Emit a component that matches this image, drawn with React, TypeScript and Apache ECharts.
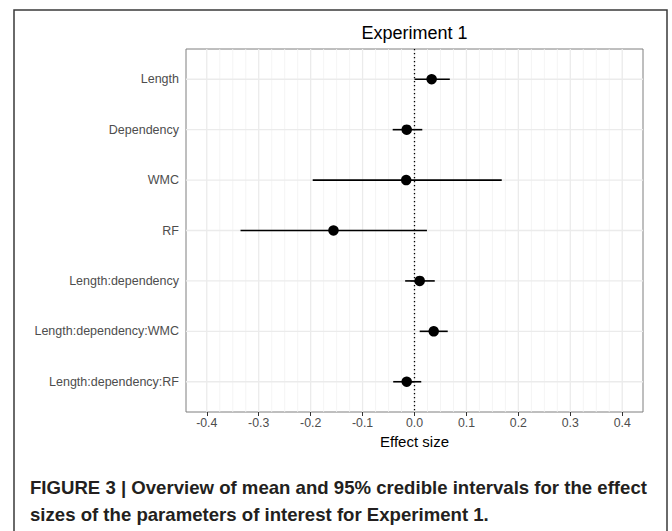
import React, { useEffect, useRef } from "react";
import * as echarts from "echarts";

const categories = [
  "Length",
  "Dependency",
  "WMC",
  "RF",
  "Length:dependency",
  "Length:dependency:WMC",
  "Length:dependency:RF",
];
const yPositions = [1, 2, 3, 4, 5, 6, 7];
const means = [0.033, -0.015, -0.016, -0.156, 0.01, 0.037, -0.015];
const lower = [0.0, -0.042, -0.196, -0.335, -0.018, 0.01, -0.041];
const upper = [0.068, 0.015, 0.168, 0.024, 0.039, 0.064, 0.013];

const xTicks = [-0.4, -0.3, -0.2, -0.1, 0, 0.1, 0.2, 0.3, 0.4];
const xTickLabels = ["-0.4", "-0.3", "-0.2", "-0.1", "0.0", "0.1", "0.2", "0.3", "0.4"];
const xMinorTicks = [
  -0.375, -0.35, -0.325, -0.275, -0.25, -0.225, -0.175, -0.15, -0.125, -0.075, -0.05, -0.025,
  0.025, 0.05, 0.075, 0.125, 0.15, 0.175, 0.225, 0.25, 0.275, 0.325, 0.35, 0.375,
];
const zeroLine = [0];

const titleText = "Experiment 1";
const xAxisName = "Effect size";
const captionLines = [
  "FIGURE 3 | Overview of mean and 95% credible intervals for the effect",
  "sizes of the parameters of interest for Experiment 1.",
];

const FONT = "'Liberation Sans', Arial, Helvetica, sans-serif";

export default function App() {
  const ref = useRef<HTMLDivElement>(null);

  useEffect(() => {
    if (!ref.current) return;
    const chart = echarts.init(ref.current, undefined, { renderer: "svg" });

    const vLine = (stroke: string, lineWidth: number, lineDash?: number[]) =>
      (params: any, api: any) => {
        const cs = params.coordSys;
        const x = api.coord([api.value(0), api.value(1)])[0];
        return {
          type: "line",
          shape: { x1: x, y1: cs.y, x2: x, y2: cs.y + cs.height },
          style: { stroke, lineWidth, lineDash },
          silent: true,
        };
      };

    const option: any = {
      animation: false,
      backgroundColor: "#ffffff",
      textStyle: { fontFamily: FONT },
      grid: { left: 186, top: 49, width: 457, height: 363, show: true, borderColor: "#7f7f7f", borderWidth: 1, backgroundColor: "transparent" },
      xAxis: {
        type: "value",
        min: -0.44,
        max: 0.44,
        axisLine: { show: false },
        splitLine: { show: false },
        axisTick: { show: true, customValues: xTicks, length: 4, lineStyle: { color: "#333333", width: 1 } },
        axisLabel: {
          customValues: xTicks,
          color: "#4d4d4d",
          fontSize: 12.3,
          fontFamily: FONT,
          margin: 5,
          formatter: (v: number) => {
            const i = xTicks.findIndex((t) => Math.abs(t - v) < 1e-9);
            return i >= 0 ? xTickLabels[i] : "";
          },
        },
        name: xAxisName,
        nameLocation: "middle",
        nameGap: 21,
        nameTextStyle: { color: "#000000", fontSize: 15, fontFamily: FONT },
      },
      yAxis: {
        type: "value",
        min: 0.4,
        max: 7.6,
        inverse: true,
        axisLine: { show: false },
        splitLine: { show: false },
        axisTick: { show: true, customValues: yPositions, length: 4, lineStyle: { color: "#333333", width: 1 } },
        axisLabel: {
          customValues: yPositions,
          color: "#4d4d4d",
          fontSize: 12.5,
          fontFamily: FONT,
          margin: 7,
          formatter: (v: number) => categories[Math.round(v) - 1] ?? "",
        },
      },
      graphic: [
        {
          type: "rect",
          shape: { x: 14, y: 10, width: 653, height: 560 },
          style: { fill: "none", stroke: "#3a3a3a", lineWidth: 1.5 },
          silent: true,
        },
        {
          type: "text",
          x: 414.5,
          y: 33,
          style: { text: titleText, fill: "#000000", fontSize: 18, fontFamily: FONT, align: "center", verticalAlign: "middle" },
        },
        ...captionLines.map((t, i) => ({
          type: "text",
          x: 30,
          y: 487 + i * 27.5,
          style: { text: t, fill: "#231f20", fontSize: 18.6, fontWeight: "bold", fontFamily: FONT, align: "left", verticalAlign: "middle" },
        })),
      ],
      series: [
        {
          type: "custom",
          name: "minorGrid",
          silent: true,
          z: 1,
          data: xMinorTicks.map((v) => [v, 1]),
          encode: { x: 0, y: 1 },
          renderItem: vLine("#f1f1f1", 0.8),
        },
        {
          type: "custom",
          name: "majorGridX",
          silent: true,
          z: 1,
          data: xTicks.map((v) => [v, 1]),
          encode: { x: 0, y: 1 },
          renderItem: vLine("#ebebeb", 1.3),
        },
        {
          type: "custom",
          name: "majorGridY",
          silent: true,
          z: 1,
          data: yPositions.map((y) => [0, y]),
          encode: { x: 0, y: 1 },
          renderItem: (params: any, api: any) => {
            const cs = params.coordSys;
            const y = api.coord([api.value(0), api.value(1)])[1];
            return {
              type: "line",
              shape: { x1: cs.x, y1: y, x2: cs.x + cs.width, y2: y },
              style: { stroke: "#ebebeb", lineWidth: 1.3 },
              silent: true,
            };
          },
        },
        {
          type: "custom",
          name: "zero",
          silent: true,
          z: 2,
          data: zeroLine.map((v) => [v, 1]),
          encode: { x: 0, y: 1 },
          renderItem: vLine("#000000", 1.3, [1.3, 2.7]),
        },
        {
          type: "custom",
          name: "interval",
          silent: true,
          z: 3,
          data: yPositions.map((y, i) => [lower[i], upper[i], y]),
          encode: { x: [0, 1], y: 2 },
          renderItem: (params: any, api: any) => {
            const p1 = api.coord([api.value(0), api.value(2)]);
            const p2 = api.coord([api.value(1), api.value(2)]);
            return {
              type: "line",
              shape: { x1: p1[0], y1: p1[1], x2: p2[0], y2: p2[1] },
              style: { stroke: "#000000", lineWidth: 1.6 },
            };
          },
        },
        {
          type: "scatter",
          name: "mean",
          z: 4,
          symbol: "circle",
          symbolSize: 10.5,
          itemStyle: { color: "#000000", opacity: 1 },
          data: yPositions.map((y, i) => [means[i], y]),
        },
      ],
    };

    chart.setOption(option);
    return () => chart.dispose();
  }, []);

  return (
    <div
      ref={ref}
      style={{ position: "fixed", left: 0, top: 0, width: 672, height: 531, background: "#fff" }}
    />
  );
}
